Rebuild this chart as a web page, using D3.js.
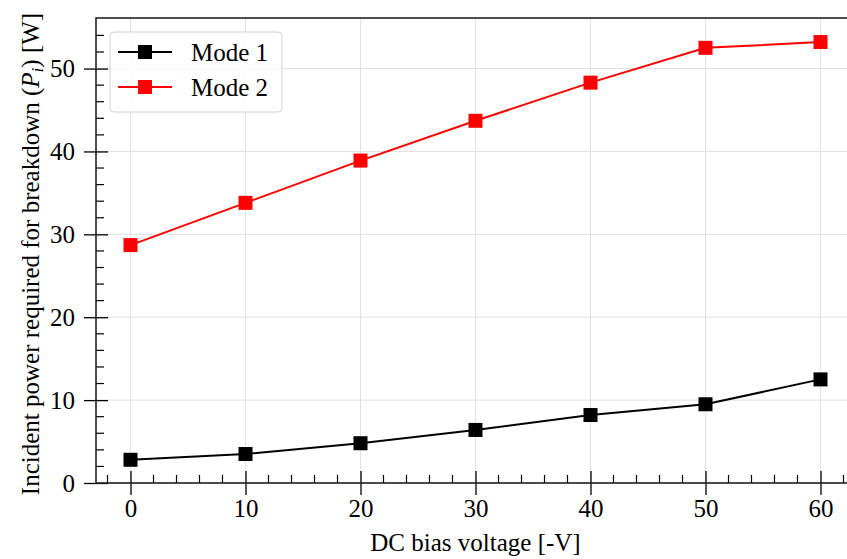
<!DOCTYPE html>
<html>
<head>
<meta charset="utf-8">
<script src="https://cdn.jsdelivr.net/npm/d3@7"></script>
<style>
  body { margin: 0; background: #fff; }
  svg { display: block; font-family: "Liberation Serif", "DejaVu Serif", serif; }
</style>
</head>
<body>
<div id="chart"></div>
<script>
const voltages = [0, 10, 20, 30, 40, 50, 60]
const mode1 = [2.8, 3.5, 4.8, 6.4, 8.2, 9.5, 12.5]
const mode2 = [28.7, 33.8, 38.9, 43.7, 48.3, 52.5, 53.2]
const xTicks = [0, 10, 20, 30, 40, 50, 60]
const yTicks = [0, 10, 20, 30, 40, 50]
const seriesNames = ["Mode 1", "Mode 2"]
const seriesColors = ["#000000", "#ff0000"]

const width = 847, height = 559
const margin = { left: 96, top: 18, bottom: 76 }
const plotRight = 855
const fontSize = "25px"

let svg = d3.select("#chart")
    .append("svg")
    .attr("width", width)
    .attr("height", height)

let x = d3.scaleLinear().domain([-3, 63]).range([margin.left, plotRight])
let y = d3.scaleLinear().domain([0, 56.1]).range([height - margin.bottom, margin.top])

// grid lines
svg.append("g")
    .selectAll("line")
    .data(xTicks)
    .enter()
    .append("line")
    .attr("x1", d => x(d)).attr("x2", d => x(d))
    .attr("y1", y(0)).attr("y2", margin.top)
    .style("stroke", "#e0e0e0").style("stroke-width", 1)
svg.append("g")
    .selectAll("line")
    .data(yTicks)
    .enter()
    .append("line")
    .attr("x1", margin.left).attr("x2", plotRight)
    .attr("y1", d => y(d)).attr("y2", d => y(d))
    .style("stroke", "#e0e0e0").style("stroke-width", 1)

// lines and markers
const series = [mode1, mode2]
let line = d3.line()
    .x((d, i) => x(voltages[i]))
    .y(d => y(d))

series.forEach((values, s) => {
    svg.append("path")
        .datum(values)
        .attr("d", line)
        .style("fill", "none")
        .style("stroke", seriesColors[s])
        .style("stroke-width", 2)
    svg.append("g")
        .selectAll("rect")
        .data(values)
        .enter()
        .append("rect")
        .attr("x", (d, i) => x(voltages[i]) - 7)
        .attr("y", d => y(d) - 7)
        .attr("width", 14)
        .attr("height", 14)
        .style("fill", seriesColors[s])
})

// axes with major ticks crossing the spine and minor ticks inside
let xAxis = svg.append("g")
    .attr("transform", "translate(0," + y(0) + ")")
    .call(d3.axisBottom(x).tickValues(xTicks).tickSize(12).tickPadding(4).tickFormat(d3.format("d")))
xAxis.selectAll(".tick line").attr("y1", -12).style("stroke-width", 1.3)
xAxis.select(".domain").remove()

let yAxis = svg.append("g")
    .attr("transform", "translate(" + margin.left + ",0)")
    .call(d3.axisLeft(y).tickValues(yTicks).tickSize(12).tickPadding(9).tickFormat(d3.format("d")))
yAxis.selectAll(".tick line").attr("x1", 12).style("stroke-width", 1.3)
yAxis.select(".domain").remove()

svg.selectAll(".tick text")
    .style("font-family", "Liberation Serif, serif")
    .style("font-size", fontSize)
    .style("fill", "#000")

let xMinor = d3.range(-2, 63, 2).filter(d => d % 10 !== 0)
svg.append("g")
    .selectAll("line")
    .data(xMinor)
    .enter()
    .append("line")
    .attr("x1", d => x(d)).attr("x2", d => x(d))
    .attr("y1", y(0)).attr("y2", y(0) - 8)
    .style("stroke", "#000").style("stroke-width", 1.2)
let yMinor = d3.range(2, 56, 2).filter(d => d % 10 !== 0)
svg.append("g")
    .selectAll("line")
    .data(yMinor)
    .enter()
    .append("line")
    .attr("x1", margin.left).attr("x2", margin.left + 8)
    .attr("y1", d => y(d)).attr("y2", d => y(d))
    .style("stroke", "#000").style("stroke-width", 1.2)

// spines
svg.append("rect")
    .attr("x", margin.left)
    .attr("y", margin.top)
    .attr("width", plotRight - margin.left)
    .attr("height", y(0) - margin.top)
    .style("fill", "none")
    .style("stroke", "#222")
    .style("stroke-width", 1.6)

// axis labels
svg.append("text")
    .attr("x", (margin.left + plotRight) / 2)
    .attr("y", 551)
    .attr("text-anchor", "middle")
    .style("font-size", fontSize)
    .text("DC bias voltage [-V]")

let yLabel = svg.append("text")
    .attr("text-anchor", "middle")
    .attr("transform", "translate(39," + 254 + ") rotate(-90)")
    .style("font-size", fontSize)
yLabel.append("tspan").text("Incident power required for breakdown (")
yLabel.append("tspan").style("font-style", "italic").text("P")
yLabel.append("tspan").style("font-style", "italic").style("font-size", "17px").attr("dy", 4).text("i")
yLabel.append("tspan").attr("dy", -4).text(") [W]")

// legend
let legend = svg.append("g").attr("transform", "translate(110,32)")
legend.append("rect")
    .attr("width", 172)
    .attr("height", 80)
    .attr("rx", 4)
    .style("fill", "rgba(255,255,255,0.8)")
    .style("stroke", "#d0d0d0")
    .style("stroke-width", 1)
seriesNames.forEach((name, i) => {
    let row = legend.append("g").attr("transform", "translate(0," + (20 + i * 35) + ")")
    row.append("line")
        .attr("x1", 8).attr("x2", 62)
        .style("stroke", seriesColors[i]).style("stroke-width", 2)
    row.append("rect")
        .attr("x", 28).attr("y", -7).attr("width", 14).attr("height", 14)
        .style("fill", seriesColors[i])
    row.append("text")
        .attr("x", 81).attr("y", 9)
        .style("font-size", fontSize)
        .text(name)
})
</script>
</body>
</html>
